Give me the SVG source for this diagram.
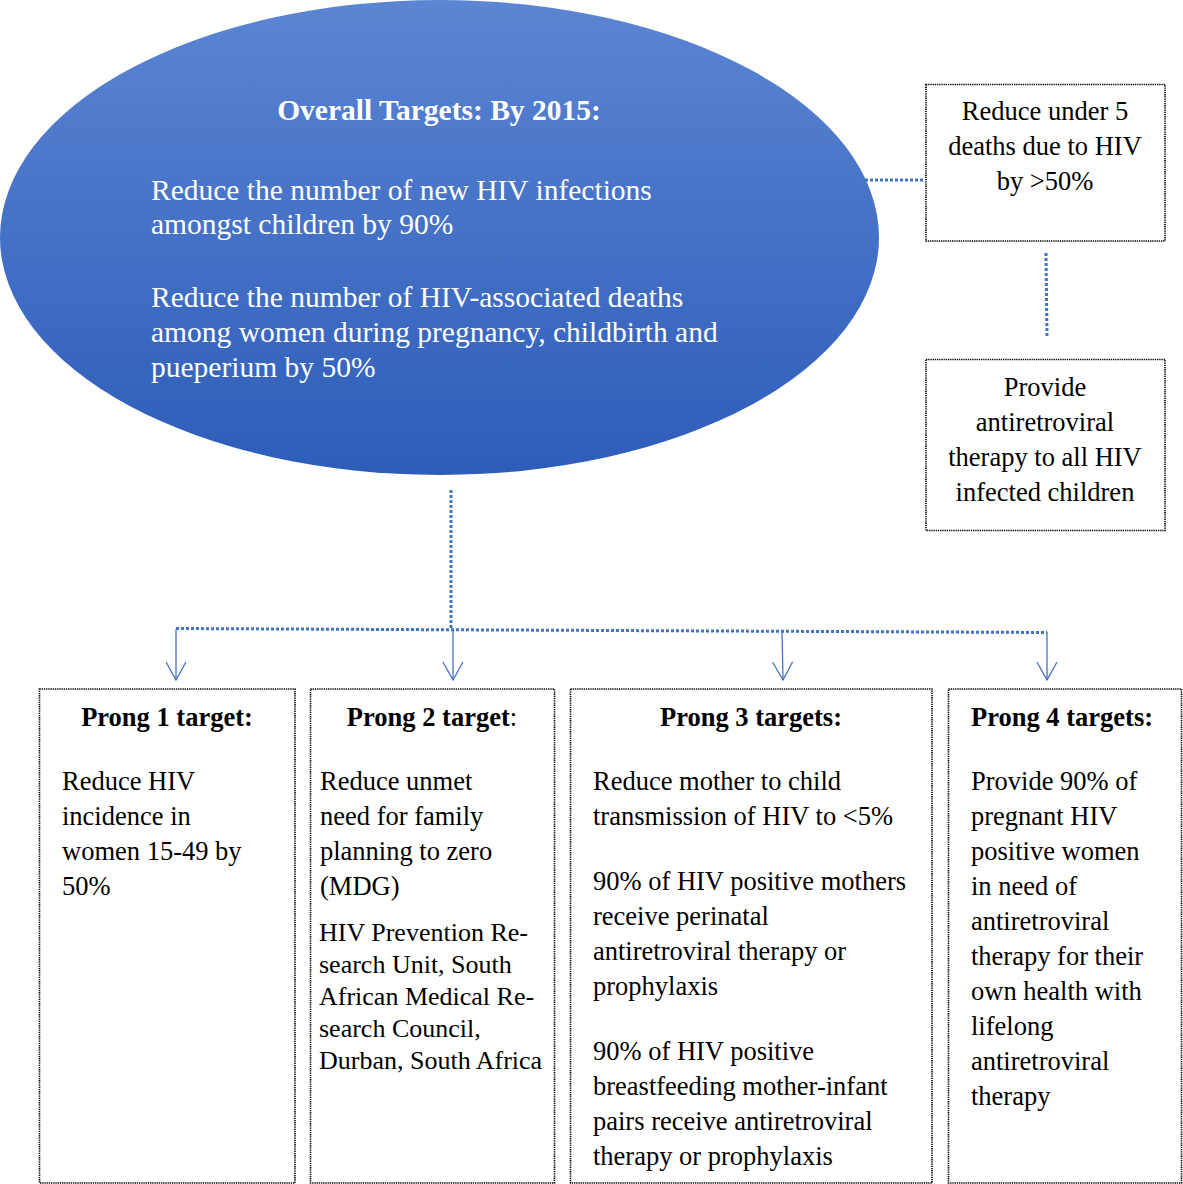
<svg xmlns="http://www.w3.org/2000/svg" width="1183" height="1184" viewBox="0 0 1183 1184">
  <style>
    text { font-family: "Liberation Serif", "Times New Roman", serif; fill: #000; }
    .ell { fill: #fff; font-size: 29.5px; }
    .ellb { fill: #fff; font-size: 29.5px; font-weight: bold; }
    .t { font-size: 26.5px; }
    .h { font-size: 26.5px; font-weight: bold; }
    .aff { font-size: 26px; }
    .box { fill: #fff; stroke: #000; stroke-width: 1.6; stroke-dasharray: 1.3 0.9; }
    .dot { fill: none; stroke: #4472C4; stroke-width: 3; stroke-dasharray: 3 2; }
    .arr { fill: none; stroke: #4472C4; stroke-width: 1.3; }
  </style>
  <defs>
    <linearGradient id="g" x1="0" y1="0" x2="0" y2="1">
      <stop offset="0" stop-color="#5c85d3"/>
      <stop offset="1" stop-color="#2d5db9"/>
    </linearGradient>
    <marker id="v" viewBox="0 0 20 22" refX="19" refY="11" markerWidth="20" markerHeight="22" markerUnits="userSpaceOnUse" orient="auto">
      <path d="M1,1 L19,11 L1,21" fill="none" stroke="#4472C4" stroke-width="1.3"/>
    </marker>
  </defs>

  <g id="connectors">
    <line class="dot" x1="865" y1="180" x2="925" y2="180"/>
    <line class="dot" x1="1046" y1="253" x2="1047" y2="338"/>
    <line class="dot" x1="451" y1="490" x2="451" y2="629"/>
    <line class="dot" x1="176" y1="628.5" x2="1047" y2="632.5"/>
    <path class="arr" d="M176,629 V680" marker-end="url(#v)"/>
    <path class="arr" d="M453,630 V680" marker-end="url(#v)"/>
    <path class="arr" d="M782,631 L783,680" marker-end="url(#v)"/>
    <path class="arr" d="M1047,632 V680" marker-end="url(#v)"/>
  </g>

  <g id="overall">
    <ellipse cx="439.5" cy="237.5" rx="439.5" ry="237.5" fill="url(#g)"/>
    <text class="ellb" x="439" y="120" text-anchor="middle">Overall Targets: By 2015:</text>
    <text class="ell" x="151" y="200">Reduce the number of new HIV infections</text>
    <text class="ell" x="151" y="234">amongst children by 90%</text>
    <text class="ell" x="151" y="307">Reduce the number of HIV-associated deaths</text>
    <text class="ell" x="151" y="342">among women during pregnancy, childbirth and</text>
    <text class="ell" x="151" y="377">pueperium by 50%</text>
  </g>

  <g id="under5">
    <rect class="box" x="926" y="84.5" width="239" height="156.5"/>
    <text class="t" x="1045" y="120" text-anchor="middle">Reduce under 5</text>
    <text class="t" x="1045" y="155" text-anchor="middle">deaths due to HIV</text>
    <text class="t" x="1045" y="190" text-anchor="middle">by &gt;50%</text>
  </g>

  <g id="art-children">
    <rect class="box" x="926" y="359.5" width="239" height="171"/>
    <text class="t" x="1045" y="396" text-anchor="middle">Provide</text>
    <text class="t" x="1045" y="431" text-anchor="middle">antiretroviral</text>
    <text class="t" x="1045" y="466" text-anchor="middle">therapy to all HIV</text>
    <text class="t" x="1045" y="501" text-anchor="middle">infected children</text>
  </g>

  <g id="prong1">
    <rect class="box" x="39.5" y="689" width="255.5" height="494"/>
    <text class="h" x="167" y="726" text-anchor="middle">Prong 1 target:</text>
    <text class="t" x="62" y="790">Reduce HIV</text>
    <text class="t" x="62" y="825">incidence in</text>
    <text class="t" x="62" y="860">women 15-49 by</text>
    <text class="t" x="62" y="895">50%</text>
  </g>

  <g id="prong2">
    <rect class="box" x="310.5" y="689" width="244" height="494"/>
    <text class="t" x="432" y="726" text-anchor="middle"><tspan font-weight="bold">Prong 2 target</tspan>:</text>
    <text class="t" x="320" y="790">Reduce unmet</text>
    <text class="t" x="320" y="825">need for family</text>
    <text class="t" x="320" y="860">planning to zero</text>
    <text class="t" x="320" y="895">(MDG)</text>
    <text class="aff" x="319" y="941">HIV Prevention Re-</text>
    <text class="aff" x="319" y="973">search Unit, South</text>
    <text class="aff" x="319" y="1005">African Medical Re-</text>
    <text class="aff" x="319" y="1037">search Council,</text>
    <text class="aff" x="319" y="1069">Durban, South Africa</text>
  </g>

  <g id="prong3">
    <rect class="box" x="570.5" y="689" width="361.5" height="494"/>
    <text class="h" x="751" y="726" text-anchor="middle">Prong 3 targets:</text>
    <text class="t" x="593" y="790">Reduce mother to child</text>
    <text class="t" x="593" y="825">transmission of HIV to &lt;5%</text>
    <text class="t" x="593" y="890">90% of HIV positive mothers</text>
    <text class="t" x="593" y="925">receive perinatal</text>
    <text class="t" x="593" y="960">antiretroviral therapy or</text>
    <text class="t" x="593" y="995">prophylaxis</text>
    <text class="t" x="593" y="1060">90% of HIV positive</text>
    <text class="t" x="593" y="1095">breastfeeding mother-infant</text>
    <text class="t" x="593" y="1130">pairs receive antiretroviral</text>
    <text class="t" x="593" y="1165">therapy or prophylaxis</text>
  </g>

  <g id="prong4">
    <rect class="box" x="948.5" y="689" width="233" height="494"/>
    <text class="h" x="971" y="726">Prong 4 targets:</text>
    <text class="t" x="971" y="790">Provide 90% of</text>
    <text class="t" x="971" y="825">pregnant HIV</text>
    <text class="t" x="971" y="860">positive women</text>
    <text class="t" x="971" y="895">in need of</text>
    <text class="t" x="971" y="930">antiretroviral</text>
    <text class="t" x="971" y="965">therapy for their</text>
    <text class="t" x="971" y="1000">own health with</text>
    <text class="t" x="971" y="1035">lifelong</text>
    <text class="t" x="971" y="1070">antiretroviral</text>
    <text class="t" x="971" y="1105">therapy</text>
  </g>
</svg>
